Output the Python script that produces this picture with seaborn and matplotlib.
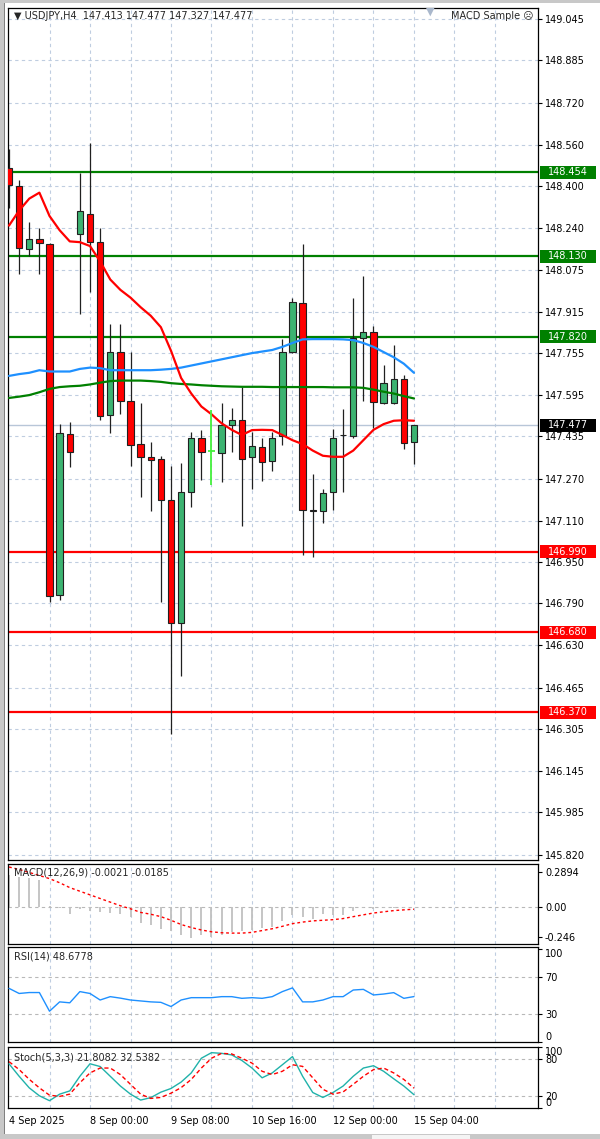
import numpy as np
import matplotlib
matplotlib.use("Agg")
import matplotlib.pyplot as plt
from matplotlib.patches import Rectangle
import matplotlib.transforms as mtransforms
import seaborn as sns

# ---- data (USDJPY H4) ----
opens = [148.469, 148.401, 148.158, 148.196, 148.177, 146.824, 147.445, 148.215, 148.294, 148.184,
         147.518, 147.760, 147.571, 147.407, 147.357, 147.349, 147.190, 146.713, 147.220, 147.430,
         147.379, 147.372, 147.480, 147.498, 147.356, 147.394, 147.338, 147.437, 147.760, 147.948,
         147.149, 147.148, 147.219, 147.440, 147.437, 147.815, 147.838, 147.564, 147.562, 147.658,
         147.413]
highs = [148.542, 148.424, 148.260, 148.237, 148.180, 147.483, 147.491, 148.451, 148.565, 148.237,
         147.867, 147.867, 147.760, 147.563, 147.414, 147.360, 147.322, 147.333, 147.452, 147.458,
         147.536, 147.565, 147.544, 147.624, 147.452, 147.430, 147.452, 147.810, 147.970, 148.176,
         147.290, 147.232, 147.464, 147.540, 147.967, 148.055, 147.859, 147.710, 147.788, 147.673,
         147.477]
lows = [148.314, 148.062, 148.131, 148.062, 146.797, 146.804, 147.315, 147.907, 147.990, 147.498,
        147.448, 147.520, 147.320, 147.200, 147.147, 146.797, 146.286, 146.510, 147.162, 147.268,
        147.247, 147.260, 147.376, 147.089, 147.230, 147.262, 147.300, 147.400, 147.757, 146.977,
        146.970, 147.102, 147.149, 147.220, 147.430, 147.572, 147.468, 147.560, 147.560, 147.387,
        147.327]
closes = [148.405, 148.161, 148.196, 148.181, 146.820, 147.449, 147.376, 148.303, 148.184, 147.513,
          147.760, 147.571, 147.400, 147.356, 147.345, 147.190, 146.713, 147.220, 147.430, 147.376,
          147.379, 147.479, 147.498, 147.349, 147.396, 147.334, 147.430, 147.760, 147.952, 147.152,
          147.148, 147.216, 147.430, 147.441, 147.815, 147.838, 147.567, 147.640, 147.658, 147.410,
          147.477]

ma_red = [148.248, 148.306, 148.352, 148.375, 148.285, 148.230, 148.187, 148.184, 148.169, 148.110,
          148.040, 148.000, 147.970, 147.933, 147.900, 147.856, 147.765, 147.660, 147.600, 147.550,
          147.520, 147.485, 147.460, 147.440, 147.459, 147.460, 147.459, 147.440, 147.420, 147.405,
          147.380, 147.360, 147.356, 147.356, 147.380, 147.420, 147.460, 147.482, 147.495, 147.497,
          147.495]
ma_blue = [147.668, 147.675, 147.680, 147.690, 147.685, 147.685, 147.685, 147.695, 147.700, 147.698,
           147.690, 147.690, 147.690, 147.690, 147.690, 147.692, 147.695, 147.700, 147.708, 147.716,
           147.724, 147.732, 147.740, 147.748, 147.756, 147.762, 147.768, 147.780, 147.795, 147.809,
           147.810, 147.810, 147.810, 147.809, 147.806, 147.795, 147.780, 147.760, 147.740, 147.715,
           147.680]
ma_green = [147.583, 147.588, 147.594, 147.605, 147.618, 147.625, 147.628, 147.630, 147.635, 147.642,
            147.648, 147.650, 147.650, 147.650, 147.648, 147.645, 147.640, 147.637, 147.635, 147.632,
            147.630, 147.628, 147.627, 147.626, 147.626, 147.626, 147.625, 147.625, 147.625, 147.625,
            147.625, 147.625, 147.624, 147.624, 147.624, 147.622, 147.615, 147.607, 147.600, 147.590,
            147.581]

resistance_levels = [148.454, 148.130, 147.820]
support_levels = [146.990, 146.680, 146.370]
bid_price = 147.477

price_ticks = [149.045, 148.885, 148.720, 148.560, 148.400, 148.240, 148.075, 147.915, 147.755,
               147.595, 147.435, 147.270, 147.110, 146.950, 146.790, 146.630, 146.465, 146.305,
               146.145, 145.985, 145.820]

macd_main = [0.26, 0.25, 0.24, 0.22, 0.005, -0.01, -0.06, -0.02, -0.03, -0.04,
             -0.05, -0.06, -0.08, -0.13, -0.15, -0.18, -0.20, -0.235, -0.26, -0.235,
             -0.245, -0.235, -0.21, -0.20, -0.19, -0.17, -0.165, -0.12, -0.07, -0.08,
             -0.10, -0.06, -0.07, -0.07, -0.03, -0.01, -0.02, -0.01, -0.01, -0.01,
             -0.0021]
macd_signal = [0.33, 0.31, 0.285, 0.26, 0.234, 0.20, 0.16, 0.13, 0.10, 0.07,
               0.04, 0.01, -0.015, -0.045, -0.06, -0.08, -0.11, -0.145, -0.17, -0.19,
               -0.205, -0.213, -0.216, -0.216, -0.21, -0.195, -0.18, -0.16, -0.138, -0.125,
               -0.115, -0.11, -0.105, -0.096, -0.08, -0.065, -0.05, -0.04, -0.03, -0.024,
               -0.0185]
rsi = [57.5, 52.0, 53.0, 53.0, 33.0, 43.0, 42.0, 54.0, 52.0, 45.0,
       48.6, 47.0, 45.0, 44.0, 43.0, 42.5, 38.0, 45.0, 47.5, 47.5,
       47.5, 48.6, 48.6, 46.8, 47.5, 46.8, 48.6, 54.0, 58.0, 43.0,
       43.0, 45.0, 48.6, 48.6, 55.7, 56.4, 50.4, 51.4, 52.9, 46.8,
       48.68]
stoch_main = [72.5, 52.0, 33.0, 20.0, 12.0, 22.7, 28.0, 52.0, 72.5, 68.0,
              52.0, 36.0, 22.7, 13.0, 17.0, 26.0, 32.0, 42.5, 57.5, 81.6,
              90.7, 89.6, 87.0, 77.9, 65.5, 49.5, 57.5, 70.9, 84.3, 52.0,
              25.4, 17.3, 25.4, 36.0, 52.0, 65.5, 69.3, 60.2, 47.9, 36.0,
              21.8]
stoch_signal = [76.0, 63.0, 47.0, 33.0, 21.0, 19.0, 22.7, 41.4, 57.5, 65.5,
                65.5, 54.8, 38.8, 22.7, 15.7, 17.3, 24.3, 33.4, 46.8, 65.5,
                81.6, 89.6, 88.6, 81.6, 73.6, 60.2, 54.8, 60.2, 70.9, 68.2,
                49.5, 30.7, 22.7, 26.4, 38.8, 52.0, 62.9, 65.5, 57.5, 46.8,
                32.5]

time_labels = ["4 Sep 2025", "8 Sep 00:00", "9 Sep 08:00", "10 Sep 16:00", "12 Sep 00:00", "15 Sep 04:00"]
time_label_bars = [0, 8, 16, 24, 32, 40]

# ---- style ----
sns.set_style("white")
plt.rcParams["font.family"] = ["DejaVu Sans"]
GRID = "#bfcde0"
FS = 7

fig = plt.figure(figsize=(6, 11.39), dpi=100)
H = 1139.0


def panel(top, bottom):
    return fig.add_axes([8 / 600, 1 - bottom / H, 530 / 600, (bottom - top) / H])


ax = panel(8, 860)
ax_macd = panel(864, 944)
ax_rsi = panel(947, 1042)
ax_st = panel(1047, 1108)

bars = np.arange(len(closes))
o = np.array(opens)
c = np.array(closes)
xlim = (-0.1, 52.25)

for a in (ax, ax_macd, ax_rsi, ax_st):
    a.set_xlim(*xlim)
    for g in range(4, 52, 4):
        a.axvline(g, color=GRID, lw=0.8, ls=(0, (3, 3)), zorder=0)
    for s in a.spines.values():
        s.set_color("black")
        s.set_linewidth(0.9)
    a.yaxis.tick_right()
    a.tick_params(axis="y", length=3, width=0.8, pad=2, labelsize=FS, colors="black")
    a.set_xticks([])

# ---- main price panel ----
ax.set_ylim(145.8004, 149.0874)
ax.set_yticks(price_ticks)
ax.set_yticklabels([f"{t:.3f}" for t in price_ticks])
for t in price_ticks:
    ax.axhline(t, color=GRID, lw=0.8, ls=(0, (3, 3)), zorder=0)

ax.axhline(bid_price, color="#b8c6d8", lw=1.0, zorder=1)

for lv in resistance_levels:
    ax.axhline(lv, color="#008000", lw=1.6, zorder=2)
for lv in support_levels:
    ax.axhline(lv, color="#ff0000", lw=1.6, zorder=2)

# wicks and bodies (open == close is drawn as a lime cross, like MT4)
flat = np.abs(o - c) < 1e-6
ax.vlines(bars[~flat], np.array(lows)[~flat], np.array(highs)[~flat], color="#202020", lw=0.9, zorder=3)
ax.vlines(bars[flat], np.array(lows)[flat], np.array(highs)[flat], color="#44f03c", lw=1.3, zorder=6)
ax.hlines(c[flat], bars[flat] - 0.3, bars[flat] + 0.3, color="#44f03c", lw=1.3, zorder=6)
body_colors = ["#3cb371" if cc > oo else "#ff0000" for oo, cc in zip(o, c)]
ax.bar(bars[~flat], (c - o)[~flat], bottom=o[~flat], width=0.62,
       color=np.array(body_colors)[~flat], edgecolor="#202020", linewidth=0.8, zorder=4)

sns.lineplot(x=bars, y=ma_blue, ax=ax, color="#1e90ff", lw=1.6, zorder=5)
sns.lineplot(x=bars, y=ma_green, ax=ax, color="#008000", lw=1.6, zorder=5)
sns.lineplot(x=bars, y=ma_red, ax=ax, color="#ff0000", lw=1.6, zorder=5)

# level tags on the price scale
trans = mtransforms.blended_transform_factory(ax.transAxes, ax.transData)
box_h = 13 / 259.2
tags = [(lv, "#008000") for lv in resistance_levels] + [(lv, "#ff0000") for lv in support_levels] + [(bid_price, "black")]
for lv, col in tags:
    ax.add_patch(Rectangle((1.004, lv - box_h / 2), 0.105, box_h, transform=trans,
                           facecolor=col, edgecolor="none", clip_on=False, zorder=6))
    ax.text(1.0565, lv, f"{lv:.3f}", transform=trans, ha="center", va="center",
            color="white", fontsize=FS, zorder=7, clip_on=False)

ax.text(0.011, 0.991, "\u25bc USDJPY,H4  147.413 147.477 147.327 147.477", transform=ax.transAxes,
        ha="left", va="center", fontsize=FS)
ax.text(0.992, 0.991, "MACD Sample \u2639", transform=ax.transAxes, ha="right", va="center", fontsize=FS)
ax.text((430 - 8) / 530, 0.996, "\u25bc", transform=ax.transAxes, ha="center", va="center",
        fontsize=8, color="#aab8cc")

# ---- MACD ----
ax_macd.set_ylim(-0.306, 0.355)
ax_macd.axhline(0, color="#b8b8b8", lw=0.8, ls=(0, (3, 3)), zorder=0)
ax_macd.vlines(bars, 0, macd_main, color="#c0c0c0", lw=1.3, zorder=2)
sns.lineplot(x=bars, y=macd_signal, ax=ax_macd, color="#ff0000", lw=1.0, zorder=3)
ax_macd.lines[-1].set_linestyle((0, (2, 2)))
ax_macd.set_yticks([0.2894, 0.0, -0.246])
ax_macd.set_yticklabels(["0.2894", "0.00", "-0.246"])
ax_macd.text(0.011, 0.89, "MACD(12,26,9) -0.0021 -0.0185", transform=ax_macd.transAxes,
             ha="left", va="center", fontsize=FS)

# ---- RSI ----
ax_rsi.set_ylim(0, 101.8)
for lv in (70, 30):
    ax_rsi.axhline(lv, color="#b8b8b8", lw=0.8, ls=(0, (3, 3)), zorder=0)
sns.lineplot(x=bars, y=rsi, ax=ax_rsi, color="#1e90ff", lw=1.0, zorder=3)
ax_rsi.set_yticks([100, 70, 30, 0])
ax_rsi.set_yticklabels(["100", "70", "30", "0"])
lbls = ax_rsi.get_yticklabels()
lbls[0].set_va("top")
lbls[3].set_va("bottom")
ax_rsi.text(0.011, 0.895, "RSI(14) 48.6778", transform=ax_rsi.transAxes, ha="left", va="center", fontsize=FS)

# ---- Stochastic ----
ax_st.set_ylim(0, 100)
for lv in (80, 20):
    ax_st.axhline(lv, color="#b8b8b8", lw=0.8, ls=(0, (3, 3)), zorder=0)
sns.lineplot(x=bars, y=stoch_main, ax=ax_st, color="#20b2aa", lw=1.0, zorder=3)
sns.lineplot(x=bars, y=stoch_signal, ax=ax_st, color="#ff0000", lw=1.0, zorder=3)
ax_st.lines[-1].set_linestyle((0, (3, 2)))
ax_st.set_yticks([100, 80, 20, 0])
ax_st.set_yticklabels(["100", "80", "20", "0"])
lbls = ax_st.get_yticklabels()
lbls[0].set_va("top")
lbls[3].set_va("bottom")
ax_st.text(0.011, 0.83, "Stoch(5,3,3) 21.8082 32.5382", transform=ax_st.transAxes, ha="left", va="center", fontsize=FS)

ax_st.set_xticks(time_label_bars)
ax_st.set_xticklabels(time_labels, ha="left", fontsize=FS)
ax_st.tick_params(axis="x", length=3, width=0.8, pad=3, colors="black")

for a in (ax, ax_macd, ax_rsi, ax_st):
    a.set_xlabel("")
    a.set_ylabel("")

# window frame bits
fig.patches.append(Rectangle((0, 0), 4 / 600, 1, transform=fig.transFigure, facecolor="#c8c8c8",
                             edgecolor="none", zorder=0))
fig.patches.append(Rectangle((4 / 600, 0), 1 / 600, 1 - 3 / H, transform=fig.transFigure, facecolor="#808080",
                             edgecolor="none", zorder=0))
fig.patches.append(Rectangle((0, 1 - 3 / H), 1, 3 / H, transform=fig.transFigure, facecolor="#c8c8c8",
                             edgecolor="none", zorder=0))
fig.patches.append(Rectangle((0, 0), 1, 5 / H, transform=fig.transFigure, facecolor="#c8c8c8",
                             edgecolor="none", zorder=0))
fig.patches.append(Rectangle((372 / 600, 0), 98 / 600, 4 / H, transform=fig.transFigure, facecolor="#f4f4f4",
                             edgecolor="none", zorder=1))

fig.savefig("out.png", dpi=100)
